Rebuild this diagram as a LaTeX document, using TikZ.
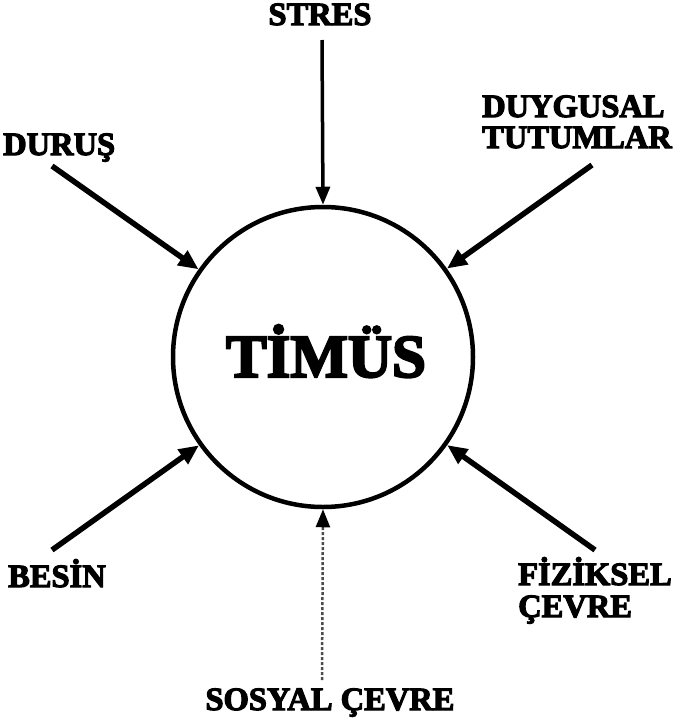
\documentclass[tikz,border=0pt]{standalone}
\usepackage{fontspec}
\newfontfamily\heavy[FakeBold=3.5]{Liberation Serif Bold}
\usetikzlibrary{arrows.meta}
\begin{document}
\begin{tikzpicture}[x=1pt,y=-1pt,
  lab/.style={font=\heavy\fontsize{32.5}{31}\selectfont, inner sep=0pt, align=left},
  big/.style={font=\heavy\fontsize{61}{61}\selectfont, inner sep=0pt},
  ring/.style={circle, draw, line width=4.5pt, minimum size=300pt, inner sep=0pt},
  diag/.style={line width=5.5pt, -{Triangle[length=20pt,width=17pt]}},
  vert/.style={line width=3.5pt, -{Triangle[length=18pt,width=14pt]}},
  faint/.style={line width=2.5pt, black!70, dash pattern=on 3pt off 2pt, -{Triangle[length=18pt,width=14pt,color=black]}}]
\useasboundingbox (0,0) rectangle (692,721);
\node[ring] (timus) at (323,357) {};
\node[big, anchor=base] (tt) at (326,377) {TİMÜS};
\node[lab, anchor=base] (stres) at (320,25) {STRES};
\node[lab, anchor=base west] (durus) at (3,155) {DURUŞ};
\node[lab, anchor=base west] (duyg) at (482,148) {DUYGUSAL\\TUTUMLAR};
\node[lab, anchor=base west] (besin) at (8,587) {BESİN};
\node[lab, anchor=base west] (fiz) at (518,617) {FİZİKSEL\\[1pt]ÇEVRE};
\node[lab, anchor=base] (sosyal) at (330,710) {SOSYAL ÇEVRE};
\coordinate (s0) at (322,40);
\coordinate (d0) at (52,166);
\coordinate (g0) at (592,165);
\coordinate (b0) at (52,550);
\coordinate (f0) at (595,550);
\coordinate (o0) at (322,680);
\draw[vert] (s0) -- (timus.north);
\draw[diag] (d0) -- (timus);
\draw[diag] (g0) -- (timus);
\draw[diag] (b0) -- (timus);
\draw[diag] (f0) -- (timus);
\draw[faint] (o0) -- (timus.south);
\end{tikzpicture}
\end{document}
